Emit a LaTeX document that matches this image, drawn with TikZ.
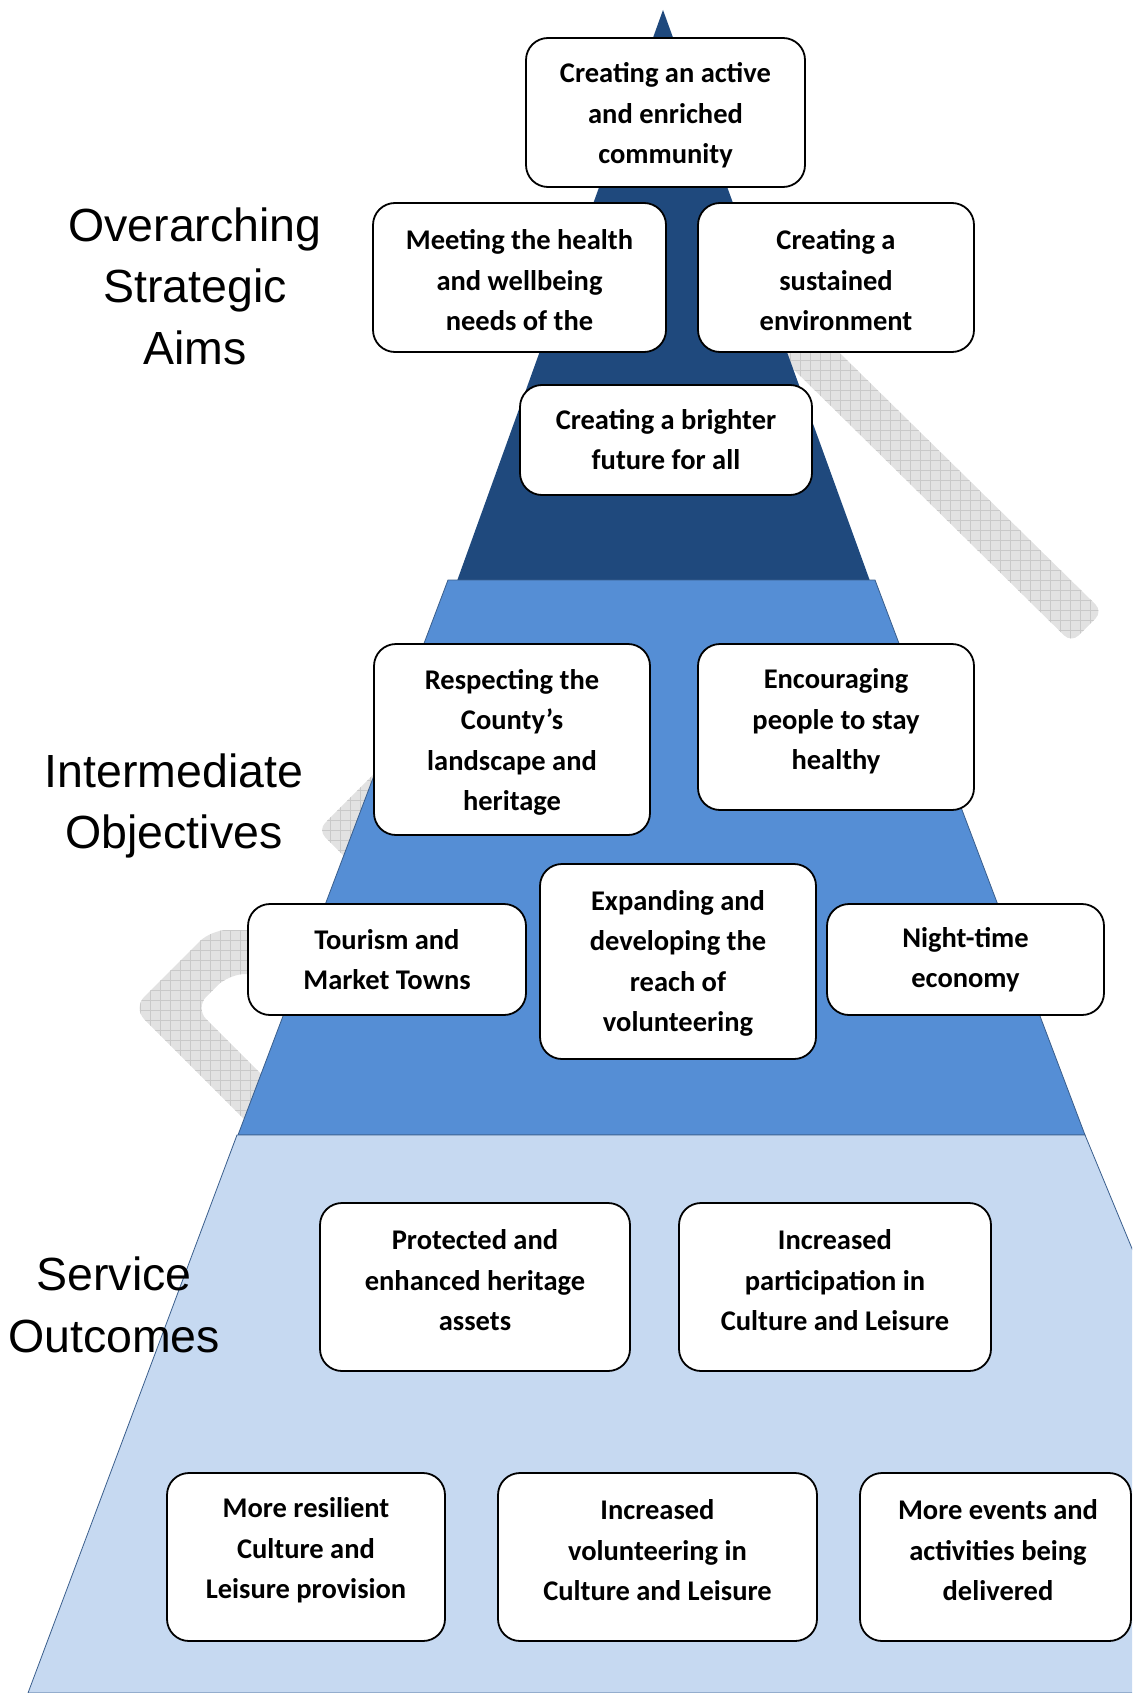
\documentclass[tikz,border=0pt]{standalone}
\usepackage{fontspec}
\setmainfont{Carlito}
\newfontfamily\labelfont{Liberation Sans}
\definecolor{darkband}{HTML}{1F497D}
\definecolor{midband}{HTML}{558ED5}
\definecolor{lightband}{HTML}{C6D9F1}
\definecolor{bandedge}{HTML}{3A5E8C}
\definecolor{greyfill}{HTML}{E2E2E2}
\definecolor{greygrid}{HTML}{C9C9C9}
\newcommand\hatchgrid[4]{%
  \foreach \gx in {#1,...,#2} \draw[greygrid, line width=0.6pt] (\gx*10,#3*10) -- (\gx*10,#4*10);
  \foreach \gy in {#3,...,#4} \draw[greygrid, line width=0.6pt] (#1*10,\gy*10) -- (#2*10,\gy*10);}
\begin{document}
\begin{tikzpicture}[x=1pt,y=-1pt,
  box/.style={draw=black, line width=1.8pt, fill=white, rounded corners=22pt, inner sep=0pt},
  boxtext/.style={font=\bfseries\fontsize{28.5}{40.5}\selectfont, align=center, inner sep=0pt, yshift=-2.5pt},
  sidelabel/.style={font=\labelfont\fontsize{46.5}{61.5}\selectfont, align=center, inner sep=0pt},
  band/.style={draw=bandedge, line width=0.8pt}
]
\useasboundingbox (0,0) rectangle (1132,1693);
\clip (0,0) rectangle (1132,1693);

% grey hatched connectors (behind the pyramid)
\begin{scope}
  \clip[rounded corners=10pt] (805.6,319.4) -- (1102.6,611.4) -- (1071.4,642.6) -- (774.4,350.6) -- cycle;
  \fill[greyfill] (770,310) rectangle (1110,650);
  \hatchgrid{77}{111}{31}{65}
\end{scope}
\begin{scope}
  \clip[rounded corners=10pt] (453.4,694.4) -- (318,830) -- (433.4,945.6) -- (464.6,914.4) -- (380,830) -- (484.6,725.6) -- cycle;
  \fill[greyfill] (310,690) rectangle (490,950);
  \hatchgrid{31}{49}{69}{95}
\end{scope}
\begin{scope}
  \clip[rounded corners=16pt] (290,930) -- (211,930) -- (133,1008) -- (268.4,1143.6) -- (299.6,1112.4) -- (195,1008) -- (229,974) -- (290,974) -- cycle;
  \fill[greyfill] (125,925) rectangle (300,1150);
  \hatchgrid{12}{30}{92}{115}
\end{scope}

% pyramid bands
\fill[darkband] (663,10) -- (870,581) -- (457,581) -- cycle;
\filldraw[band, fill=midband] (448,580) -- (875,580) -- (1085,1135) -- (238,1135) -- cycle;
\filldraw[band, fill=lightband] (237,1135) -- (1085,1135) -- (1316,1693) -- (28,1693) -- cycle;

% side labels
\node[sidelabel] (lab1) at (195,286) {Overarching\\Strategic\\Aims};
\node[sidelabel] (lab2) at (174,806) {Intermediate\\Objectives};
\node[sidelabel] (lab3) at (114,1305) {Service\\Outcomes};

% boxes
\node[box, minimum width=279pt, minimum height=149pt] (b1) at (665.5,112.5) {};
\node[boxtext] (t1) at (665.5,113) {Creating an active\\and enriched\\community};
\node[box, minimum width=293pt, minimum height=149pt] (b2) at (519.5,277.5) {};
\node[boxtext] (t2) at (519.5,278) {Meeting the health\\and wellbeing\\needs of the};
\node[box, minimum width=276pt, minimum height=149pt] (b3) at (836,277.5) {};
\node[boxtext] (t3) at (836,278) {Creating a\\sustained\\environment};
\node[box, minimum width=292pt, minimum height=110pt] (b4) at (666,440) {};
\node[boxtext] (t4) at (666,437) {Creating a brighter\\future for all};

\node[box, minimum width=276pt, minimum height=191pt] (b5) at (512,739.5) {};
\node[boxtext] (t5) at (512,740) {Respecting the\\County’s\\landscape and\\heritage};
\node[box, minimum width=276pt, minimum height=166pt] (b6) at (836,727) {};
\node[boxtext] (t6) at (836,719) {Encouraging\\people to stay\\healthy};
\node[box, minimum width=278pt, minimum height=111pt] (b7) at (387,959.5) {};
\node[boxtext] (t7) at (387,957) {Tourism and\\Market Towns};
\node[box, minimum width=276pt, minimum height=195pt] (b8) at (678,961.5) {};
\node[boxtext] (t8) at (678,961) {Expanding and\\developing the\\reach of\\volunteering};
\node[box, minimum width=277pt, minimum height=111pt] (b9) at (965.5,959.5) {};
\node[boxtext] (t9) at (965.5,957) {Night-time\\economy};

\node[box, minimum width=310pt, minimum height=168pt] (b10) at (475,1287) {};
\node[boxtext] (t10) at (475,1278) {Protected and\\enhanced heritage\\assets};
\node[box, minimum width=312pt, minimum height=168pt] (b11) at (835,1287) {};
\node[boxtext] (t11) at (835,1278) {Increased\\participation in\\Culture and Leisure};
\node[box, minimum width=278pt, minimum height=168pt] (b12) at (306,1557) {};
\node[boxtext] (t12) at (306,1548) {More resilient\\Culture and\\Leisure provision};
\node[box, minimum width=319pt, minimum height=168pt] (b13) at (657.5,1557) {};
\node[boxtext] (t13) at (657.5,1548) {Increased\\volunteering in\\Culture and Leisure};
\node[box, minimum width=271pt, minimum height=168pt] (b14) at (995.5,1557) {};
\node[boxtext] (t14) at (998,1548) {More events and\\activities being\\delivered};
\end{tikzpicture}
\end{document}
